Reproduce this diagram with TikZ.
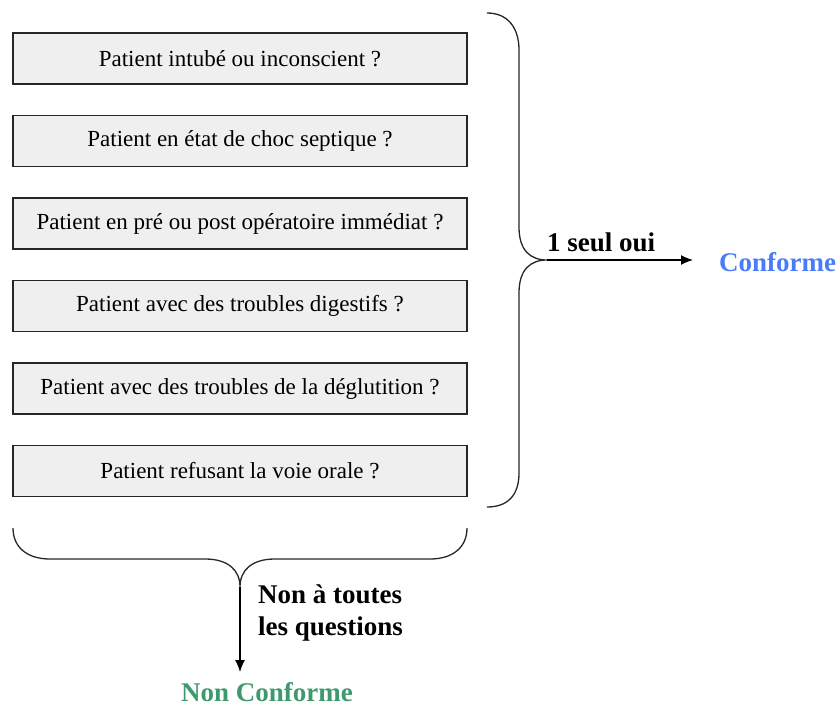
\documentclass[tikz,border=0pt]{standalone}
\usepackage{fontspec}
\setmainfont{Liberation Serif}
\usetikzlibrary{arrows.meta}
\definecolor{boxfill}{HTML}{EFEFEF}
\definecolor{okblue}{HTML}{4A7CFA}
\definecolor{nokgreen}{HTML}{3E9A6C}
\tikzset{
  question/.style={draw=black!85, line width=1.3pt, fill=boxfill,
    minimum width=454pt, minimum height=51pt, inner sep=0pt,
    font=\fontsize{23}{27}\selectfont},
  bracepath/.style={draw=black!85, line width=1.3pt},
  label/.style={font=\fontsize{27}{32}\selectfont\bfseries, inner sep=0pt},
  flow/.style={line width=1.3pt, -{Latex[length=12pt,width=10pt]}},
}
\begin{document}
\begin{tikzpicture}[x=1pt, y=-1pt]
\useasboundingbox (0,0) rectangle (838,706);

% question boxes
\node[question] (q1) at (240,58.5) {Patient intubé ou inconscient ?};
\node[question] (q2) at (240,141) {Patient en état de choc septique ?};
\node[question] (q3) at (240,223.5) {Patient en pré ou post opératoire immédiat ?};
\node[question] (q4) at (240,306) {Patient avec des troubles digestifs ?};
\node[question] (q5) at (240,388.5) {Patient avec des troubles de la déglutition ?};
\node[question] (q6) at (240,471) {Patient refusant la voie orale ?};

% right brace
\coordinate (rtip) at (547,260);
\draw[bracepath] (487,13) .. controls (508,13) and (519,28) .. (519,50)
  -- (519,227) .. controls (519,250) and (530,260) .. (rtip)
  .. controls (530,260) and (519,270) .. (519,293)
  -- (519,473) .. controls (519,495) and (508,507) .. (487,507);

% bottom brace
\coordinate (btip) at (240,587);
\draw[bracepath] (13,528) .. controls (13,548) and (28,559) .. (50,559)
  -- (205,559) .. controls (228,559) and (240,570) .. (btip)
  .. controls (240,570) and (252,559) .. (275,559)
  -- (430,559) .. controls (452,559) and (467,548) .. (467,528);

% outcomes
\node[label, text=okblue, anchor=west] (ok) at (719,262) {Conforme};
\node[label, text=nokgreen] (nok) at (267,692) {Non Conforme};
\coordinate (okin) at (693,260);
\coordinate (nokin) at (240,672);

\draw[flow] (rtip) -- node[label, above=8pt, pos=0.37] {1 seul oui} (okin);
\draw[flow] (btip) -- (nokin);
\node[label, anchor=north west, align=left] (nonall) at (258,585)
  {Non à toutes\\les questions};
\end{tikzpicture}
\end{document}
